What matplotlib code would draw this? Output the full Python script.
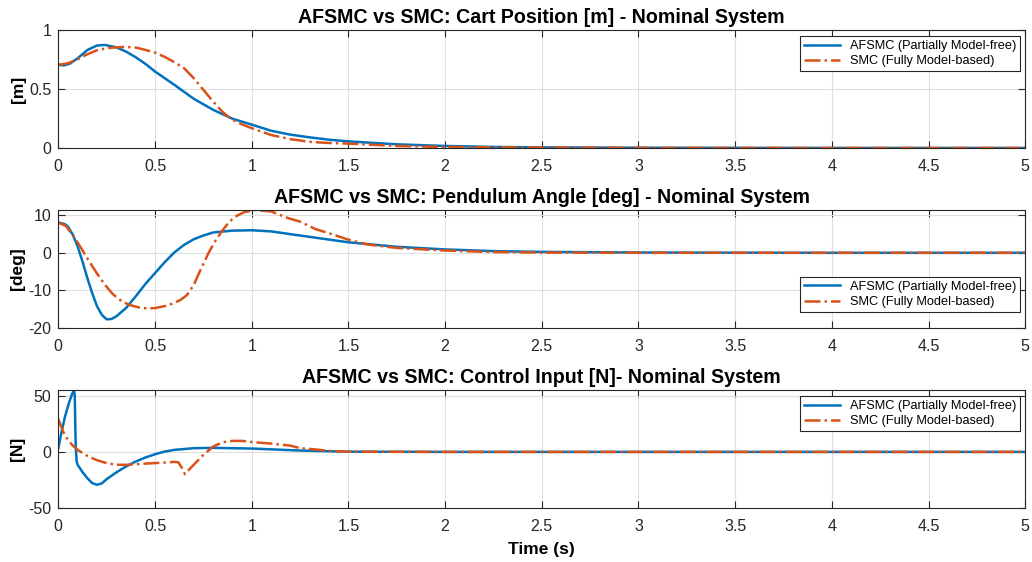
import matplotlib.pyplot as plt

plt.rcParams['font.family'] = ['Liberation Sans', 'DejaVu Sans']

# cart position [m]
t_pos = [0, 0.03, 0.06, 0.1, 0.15, 0.2, 0.24, 0.3, 0.35, 0.4, 0.45, 0.5, 0.6, 0.7, 0.8, 0.9,
         1.0, 1.1, 1.2, 1.3, 1.4, 1.5, 1.75, 2.0, 2.25, 2.5, 3.0, 3.5, 4.0, 5.0]
afsmc_pos = [0.704, 0.700, 0.715, 0.76, 0.83, 0.868, 0.873, 0.853, 0.817, 0.769, 0.713, 0.648,
             0.535, 0.417, 0.324, 0.248, 0.198, 0.146, 0.113, 0.090, 0.070, 0.056, 0.031, 0.017,
             0.009, 0.005, 0.002, 0.001, 0.0, 0.0]
t_pos_smc = [0, 0.05, 0.1, 0.15, 0.2, 0.25, 0.3, 0.35, 0.4, 0.45, 0.5, 0.55, 0.6, 0.65, 0.7,
             0.75, 0.8, 0.85, 0.9, 0.95, 1.0, 1.1, 1.2, 1.3, 1.4, 1.5, 1.75, 2.0, 2.5, 3.0, 4.0, 5.0]
smc_pos = [0.704, 0.718, 0.752, 0.794, 0.828, 0.845, 0.853, 0.856, 0.851, 0.831, 0.808, 0.772,
           0.727, 0.676, 0.592, 0.493, 0.394, 0.304, 0.239, 0.200, 0.168, 0.110, 0.075, 0.052,
           0.042, 0.037, 0.017, 0.008, 0.003, 0.001, 0.0, 0.0]

# pendulum angle [deg]
t_ang = [0, 0.03, 0.05, 0.075, 0.1, 0.125, 0.15, 0.175, 0.2, 0.225, 0.25, 0.275, 0.3, 0.35,
         0.4, 0.45, 0.5, 0.55, 0.6, 0.65, 0.7, 0.75, 0.8, 0.9, 1.0, 1.1, 1.25, 1.5, 1.75, 2.0,
         2.25, 2.5, 3.0, 3.5, 4.0, 5.0]
afsmc_ang = [8.05, 7.7, 7.0, 4.8, 1.7, -2.3, -6.7, -10.7, -14.2, -16.5, -17.7, -17.6, -16.9,
             -14.7, -11.6, -8.3, -5.4, -2.5, 0.1, 2.1, 3.6, 4.6, 5.4, 5.9, 6.0, 5.7, 4.6, 2.8,
             1.6, 0.9, 0.45, 0.25, 0.08, 0.03, 0.0, 0.0]
t_ang_smc = [0, 0.04, 0.086, 0.12, 0.155, 0.2, 0.241, 0.28, 0.328, 0.37, 0.414, 0.457, 0.5,
             0.55, 0.586, 0.63, 0.664, 0.7, 0.724, 0.75, 0.776, 0.81, 0.845, 0.88, 0.914, 0.96,
             1.017, 1.1, 1.19, 1.25, 1.33, 1.4, 1.5, 1.6, 1.75, 2.0, 2.25, 2.5, 3.0, 4.0, 5.0]
smc_ang = [8.05, 7.1, 3.9, 1.1, -1.9, -5.5, -8.5, -10.9, -12.9, -13.9, -14.5, -14.8, -14.7,
           -14.2, -13.6, -12.6, -11.3, -8.6, -5.8, -3.0, -0.1, 3.0, 5.7, 8.0, 9.6, 10.8,
           11.4, 11.0, 9.2, 8.3, 6.3, 5.2, 3.5, 2.2, 1.3, 0.6, 0.2, 0.05, 0.0, 0.0, 0.0]

# control input [N]
t_u = [0, 0.017, 0.034, 0.052, 0.069, 0.081, 0.085, 0.09, 0.095, 0.1, 0.125, 0.15, 0.175,
       0.2, 0.225, 0.25, 0.3, 0.35, 0.4, 0.45, 0.5, 0.55, 0.6, 0.7, 0.8, 1.0, 1.25, 1.5,
       2.0, 3.0, 5.0]
afsmc_u = [3.3, 18, 31, 42, 50.6, 55, 50, 5, -8.6, -11.5, -18, -23.4, -27.8, -29.3, -28.1,
           -24.3, -18.3, -13, -8.6, -5, -2.1, 0.3, 1.8, 3.3, 3.6, 3.0, 1.2, 0.2, 0.0, 0.0, 0.0]
t_u_smc = [0, 0.025, 0.05, 0.075, 0.1, 0.15, 0.2, 0.25, 0.3, 0.35, 0.4, 0.45, 0.5, 0.55,
           0.6, 0.62, 0.64, 0.655, 0.67, 0.7, 0.75, 0.8, 0.85, 0.9, 0.95, 1.0, 1.1, 1.2,
           1.25, 1.33, 1.4, 1.5, 2.0, 3.0, 5.0]
smc_u = [29.3, 18, 10.7, 5.6, 1.8, -3.6, -7.4, -10, -11.5, -11.5, -11, -10.4, -10, -9.5,
         -8.9, -9.2, -14.5, -19.8, -16.9, -11.5, -2.7, 4.7, 8.6, 9.8, 9.8, 8.8, 7.4, 5.6,
         3.3, 2.2, 0.9, 0.2, 0.0, 0.0, 0.0]

xticks = [0, 0.5, 1, 1.5, 2, 2.5, 3, 3.5, 4, 4.5, 5]
xticklabels = ['0', '0.5', '1', '1.5', '2', '2.5', '3', '3.5', '4', '4.5', '5']

BLUE = '#0072BD'
ORANGE = '#D95319'
INK = '#262626'

panels = [
    ('AFSMC vs SMC: Cart Position [m] - Nominal System', '[m]',
     t_pos, afsmc_pos, t_pos_smc, smc_pos, (0, 1), [0, 0.5, 1], ['0', '0.5', '1'],
     'upper right', (0.995, 0.945)),
    ('AFSMC vs SMC: Pendulum Angle [deg] - Nominal System', '[deg]',
     t_ang, afsmc_ang, t_ang_smc, smc_ang, (-20, 11.4), [-20, -10, 0, 10],
     ['-20', '-10', '0', '10'], 'lower right', (0.995, 0.136)),
    ('AFSMC vs SMC: Control Input [N]- Nominal System', '[N]',
     t_u, afsmc_u, t_u_smc, smc_u, (-50, 55.2), [-50, 0, 50], ['-50', '0', '50'],
     'upper right', (0.995, 0.945)),
]

fig = plt.figure(figsize=(10.32, 5.62), dpi=100)
bottoms = [0.7367, 0.4164, 0.0961]

for (title, ylab, ta, ya, ts, ys, ylim, yt, ytl, loc, anchor), b in zip(panels, bottoms):
    ax = fig.add_axes([0.0565, b, 0.937, 0.21])
    ax.plot(ta, ya, color=BLUE, lw=1.8, label='AFSMC (Partially Model-free)')
    ax.plot(ts, ys, color=ORANGE, lw=1.8, ls='-.', label='SMC (Fully Model-based)')
    ax.set_xlim(0, 5)
    ax.set_ylim(*ylim)
    ax.set_xticks(xticks)
    ax.set_xticklabels(xticklabels)
    ax.set_yticks(yt)
    ax.set_yticklabels(ytl)
    ax.grid(True, color='#dfdfdf', lw=0.8)
    ax.set_axisbelow(True)
    ax.tick_params(direction='in', top=True, right=True, length=5, width=0.8,
                   colors=INK, labelsize=11.5)
    ax.tick_params(axis='x', pad=8)
    ax.tick_params(axis='y', pad=5)
    for s in ax.spines.values():
        s.set_color(INK)
        s.set_linewidth(0.8)
    ax.set_title(title, fontsize=14.1, fontweight='bold', pad=5)
    ax.set_ylabel(ylab, fontsize=12.5, fontweight='bold', labelpad=2)
    leg = ax.legend(loc=loc, bbox_to_anchor=anchor, fontsize=9.2, fancybox=False,
                    framealpha=1, edgecolor=INK, borderaxespad=0, handlelength=2.8,
                    borderpad=0.3, labelspacing=0.25)
    leg.get_frame().set_linewidth(0.8)

ax.set_xlabel('Time (s)', fontsize=12.5, fontweight='bold', labelpad=6)

fig.savefig('out.png', dpi=100)
